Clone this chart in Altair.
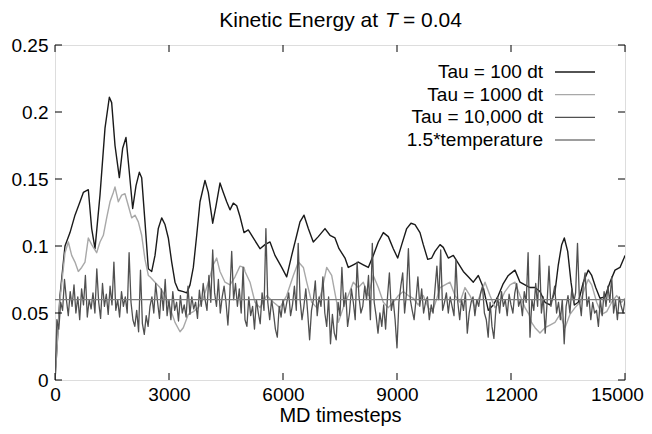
import altair as alt
import pandas as pd

FONT = "Liberation Sans"

# ---- Series: Tau = 100 dt (black, slow large oscillations) ----
t_tau100 = [0, 132, 263, 395, 526, 658, 746, 877, 965, 1053, 1184, 1316, 1430, 1491, 1579,
            1693, 1781, 1868, 1956, 2044, 2132, 2219, 2281, 2368, 2456, 2545, 2632, 2718,
            2808, 2895, 2982, 3071, 3158, 3245, 3376, 3466, 3553, 3640, 3729, 3816, 3947,
            4034, 4150, 4237, 4342, 4429, 4518, 4605, 4692, 4782, 4868, 4974, 5087, 5218,
            5395, 5526, 5658, 5789, 5966, 6097, 6229, 6361, 6447, 6553, 6666, 6797, 6929,
            7105, 7237, 7368, 7474, 7632, 7718, 7850, 7982, 8113, 8245, 8376, 8508, 8640,
            8771, 8903, 9018, 9124, 9255, 9368, 9474, 9605, 9692, 9808, 9913, 10000, 10132,
            10218, 10350, 10482, 10613, 10745, 10876, 11008, 11140, 11271, 11403, 11534,
            11666, 11797, 11929, 12105, 12237, 12368, 12500, 12632, 12763, 12895, 13026,
            13158, 13245, 13334, 13403, 13492, 13579, 13666, 13771, 13903, 14034, 14124,
            14229, 14342, 14474, 14605, 14737, 14868, 14974, 15000]
v_tau100 = [0.0, 0.063, 0.100, 0.110, 0.123, 0.133, 0.140, 0.142, 0.113, 0.098, 0.138, 0.188,
            0.211, 0.207, 0.175, 0.151, 0.173, 0.181, 0.155, 0.128, 0.145, 0.155, 0.151, 0.118,
            0.083, 0.081, 0.093, 0.113, 0.121, 0.116, 0.106, 0.088, 0.073, 0.067, 0.066, 0.065,
            0.071, 0.084, 0.108, 0.133, 0.149, 0.140, 0.117, 0.130, 0.147, 0.140, 0.133, 0.127,
            0.132, 0.130, 0.122, 0.110, 0.112, 0.106, 0.098, 0.101, 0.103, 0.093, 0.084, 0.077,
            0.093, 0.108, 0.118, 0.123, 0.113, 0.103, 0.107, 0.113, 0.108, 0.106, 0.098, 0.091,
            0.084, 0.086, 0.088, 0.086, 0.084, 0.093, 0.103, 0.110, 0.107, 0.098, 0.091, 0.101,
            0.113, 0.117, 0.116, 0.110, 0.101, 0.090, 0.091, 0.096, 0.101, 0.099, 0.091, 0.093,
            0.087, 0.081, 0.077, 0.073, 0.078, 0.069, 0.052, 0.056, 0.063, 0.072, 0.078, 0.082,
            0.073, 0.071, 0.069, 0.069, 0.066, 0.058, 0.056, 0.066, 0.086, 0.101, 0.106, 0.096,
            0.073, 0.056, 0.058, 0.073, 0.082, 0.078, 0.069, 0.061, 0.062, 0.073, 0.082, 0.084,
            0.091, 0.093]

# ---- Series: Tau = 1000 dt (light gray) ----
t_tau1000 = [0, 132, 263, 351, 439, 526, 614, 702, 789, 877, 965, 1096, 1184, 1272, 1360,
             1447, 1535, 1579, 1667, 1754, 1842, 1930, 2018, 2105, 2193, 2281, 2368, 2456,
             2500, 2632, 2763, 2895, 3026, 3158, 3290, 3376, 3508, 3640, 3772, 3903, 4034,
             4166, 4255, 4342, 4474, 4605, 4737, 4868, 4974, 5000, 5132, 5263, 5395, 5571,
             5747, 5921, 6097, 6272, 6405, 6536, 6624, 6755, 6887, 7018, 7150, 7281, 7413,
             7456, 7587, 7718, 7850, 7982, 8113, 8245, 8376, 8508, 8640, 8771, 8903, 9034,
             9166, 9297, 9429, 9561, 9692, 9824, 9930, 10050, 10132, 10263, 10395, 10526,
             10658, 10789, 10921, 11053, 11184, 11316, 11447, 11579, 11710, 11842, 11974,
             12105, 12237, 12368, 12474, 12540, 12632, 12763, 12895, 13026, 13158, 13289,
             13421, 13553, 13684, 13816, 13947, 14034, 14124, 14255, 14387, 14518, 14650,
             14781, 14913, 15000]
v_tau1000 = [0.0, 0.060, 0.095, 0.103, 0.093, 0.088, 0.081, 0.084, 0.088, 0.106, 0.101, 0.095,
             0.103, 0.108, 0.121, 0.133, 0.140, 0.144, 0.133, 0.138, 0.139, 0.130, 0.121, 0.123,
             0.118, 0.108, 0.090, 0.078, 0.077, 0.073, 0.069, 0.063, 0.054, 0.043, 0.036, 0.039,
             0.049, 0.051, 0.054, 0.061, 0.073, 0.086, 0.091, 0.081, 0.073, 0.071, 0.077, 0.085,
             0.084, 0.081, 0.073, 0.058, 0.054, 0.063, 0.058, 0.054, 0.063, 0.078, 0.088, 0.084,
             0.073, 0.058, 0.054, 0.066, 0.084, 0.078, 0.058, 0.043, 0.054, 0.063, 0.073, 0.069,
             0.073, 0.063, 0.078, 0.069, 0.058, 0.054, 0.058, 0.063, 0.066, 0.063, 0.061, 0.056,
             0.063, 0.054, 0.051, 0.061, 0.069, 0.071, 0.073, 0.063, 0.058, 0.069, 0.063, 0.054,
             0.063, 0.073, 0.063, 0.054, 0.058, 0.066, 0.071, 0.073, 0.063, 0.054, 0.049, 0.043,
             0.039, 0.035, 0.039, 0.041, 0.043, 0.049, 0.039, 0.049, 0.054, 0.058, 0.069, 0.075,
             0.071, 0.058, 0.049, 0.051, 0.058, 0.063, 0.058, 0.061]

# ---- Series: Tau = 10,000 dt (dark gray, noisy), sampled every 50 timesteps ----
t_tau10000 = list(range(0, 15001, 50))
v_tau10000 = [
    0.0, 0.045, 0.038, 0.058, 0.052, 0.075, 0.060, 0.048, 0.066, 0.055, 0.071, 0.050, 0.062, 0.045, 0.068, 0.056, 0.078, 0.047, 0.060, 0.053,
    0.065, 0.050, 0.083, 0.058, 0.046, 0.072, 0.055, 0.064, 0.049, 0.070, 0.056, 0.088, 0.052, 0.060, 0.047, 0.066, 0.055, 0.062, 0.050, 0.095,
    0.058, 0.045, 0.040, 0.052, 0.036, 0.082, 0.042, 0.034, 0.048, 0.040, 0.055, 0.062, 0.050, 0.072, 0.058, 0.046, 0.068, 0.052, 0.075, 0.048,
    0.060, 0.045, 0.066, 0.052, 0.058, 0.044, 0.063, 0.050, 0.056, 0.047, 0.070, 0.049, 0.062, 0.053, 0.058, 0.046, 0.067, 0.055, 0.072, 0.060,
    0.052, 0.078, 0.058, 0.097, 0.065, 0.055, 0.075, 0.050, 0.062, 0.070, 0.058, 0.041, 0.064, 0.096, 0.060, 0.072, 0.055, 0.068, 0.050, 0.084,
    0.045, 0.040, 0.062, 0.048, 0.055, 0.038, 0.060, 0.050, 0.042, 0.065, 0.052, 0.113, 0.058, 0.045, 0.060, 0.050, 0.038, 0.032, 0.055, 0.047,
    0.060, 0.050, 0.058, 0.065, 0.048, 0.056, 0.070, 0.052, 0.102, 0.060, 0.045, 0.055, 0.068, 0.050, 0.030, 0.052, 0.060, 0.074, 0.048, 0.062,
    0.055, 0.077, 0.050, 0.040, 0.062, 0.027, 0.049, 0.035, 0.030, 0.058, 0.048, 0.084, 0.055, 0.065, 0.040, 0.050, 0.068, 0.058, 0.045, 0.088,
    0.062, 0.050, 0.055, 0.070, 0.060, 0.078, 0.045, 0.102, 0.058, 0.048, 0.035, 0.050, 0.040, 0.056, 0.038, 0.062, 0.080, 0.052, 0.060, 0.045,
    0.024, 0.058, 0.070, 0.080, 0.050, 0.065, 0.098, 0.060, 0.052, 0.045, 0.060, 0.077, 0.055, 0.068, 0.050, 0.058, 0.062, 0.045, 0.056, 0.050,
    0.068, 0.085, 0.060, 0.097, 0.052, 0.058, 0.065, 0.050, 0.062, 0.055, 0.048, 0.090, 0.058, 0.045, 0.060, 0.052, 0.065, 0.035, 0.050, 0.058,
    0.062, 0.048, 0.060, 0.055, 0.065, 0.070, 0.050, 0.045, 0.032, 0.058, 0.040, 0.031, 0.052, 0.062, 0.050, 0.066, 0.055, 0.060, 0.048, 0.064,
    0.056, 0.050, 0.065, 0.072, 0.055, 0.060, 0.048, 0.066, 0.058, 0.095, 0.032, 0.060, 0.052, 0.072, 0.055, 0.093, 0.050, 0.062, 0.035, 0.058,
    0.085, 0.055, 0.062, 0.070, 0.050, 0.058, 0.045, 0.060, 0.027, 0.055, 0.063, 0.050, 0.068, 0.058, 0.065, 0.102, 0.060, 0.048, 0.070, 0.080,
    0.055, 0.062, 0.045, 0.058, 0.050, 0.052, 0.040, 0.060, 0.048, 0.066, 0.055, 0.070, 0.058, 0.077, 0.050, 0.060, 0.045, 0.062, 0.055, 0.050,
    0.060,
]

# ---- 1.5*temperature (constant) ----
t_temp = [0, 15000]
v_temp = [0.06, 0.06]

series_names = ["Tau = 100 dt", "Tau = 1000 dt", "Tau = 10,000 dt", "1.5*temperature"]
series_colors = ["#1a1a1a", "#a8a8a8", "#505050", "#7c7c7c"]
series_widths = [1.4, 1.4, 1.3, 1.3]

x_ticks = [0, 3000, 6000, 9000, 12000, 15000]
y_ticks = [0, 0.05, 0.1, 0.15, 0.2, 0.25]

W, H = 570, 335

frames = []
for name, ts, vs in zip(series_names,
                        [t_tau100, t_tau1000, t_tau10000, t_temp],
                        [v_tau100, v_tau1000, v_tau10000, v_temp]):
    frames.append(pd.DataFrame({"series": name, "t": ts, "v": vs}))

x_scale = alt.Scale(domain=[0, 15000], nice=False)
y_scale = alt.Scale(domain=[0, 0.25], nice=False)
color_scale = alt.Scale(domain=series_names, range=series_colors)

x_axis = alt.Axis(values=x_ticks, format="d", title="MD timesteps",
                  ticks=False, domain=False, grid=False,
                  labelFontSize=19, labelPadding=5, labelFont=FONT,
                  labelColor="black", titleFontSize=20, titleFont=FONT,
                  titleFontWeight="normal", titleColor="black",
                  titlePadding=1, labelFlush=False,
                  labelOffset={"condition": {"test": "datum.value == 15000", "value": -8},
                               "value": 0})
y_axis = alt.Axis(values=y_ticks, format="~g", title=None,
                  ticks=False, domain=False, grid=False,
                  labelFontSize=19, labelPadding=7, labelFont=FONT,
                  labelColor="black", labelFlush=False)

layers = []
for i, (name, df) in enumerate(zip(series_names, frames)):
    layers.append(
        alt.Chart(df).mark_line(strokeWidth=series_widths[i], clip=True,
                                strokeJoin="round").encode(
            x=alt.X("t:Q", scale=x_scale, axis=x_axis),
            y=alt.Y("v:Q", scale=y_scale, axis=y_axis),
            color=alt.Color("series:N", scale=color_scale, legend=None),
        )
    )

# inward tick marks on all four sides (gnuplot style)
ytick_df = pd.DataFrame({"v": y_ticks})
xtick_df = pd.DataFrame({"t": x_ticks})
TL = 7
tick_layers = [
    alt.Chart(ytick_df).mark_rule(color="black", strokeWidth=1).encode(
        y=alt.Y("v:Q", scale=y_scale, axis=y_axis), x=alt.value(0), x2=alt.value(TL)),
    alt.Chart(ytick_df).mark_rule(color="black", strokeWidth=1).encode(
        y=alt.Y("v:Q", scale=y_scale, axis=y_axis), x=alt.value(W), x2=alt.value(W - TL)),
    alt.Chart(xtick_df).mark_rule(color="black", strokeWidth=1).encode(
        x=alt.X("t:Q", scale=x_scale, axis=x_axis), y=alt.value(H), y2=alt.value(H - TL)),
    alt.Chart(xtick_df).mark_rule(color="black", strokeWidth=1).encode(
        x=alt.X("t:Q", scale=x_scale, axis=x_axis), y=alt.value(0), y2=alt.value(TL)),
]

main = alt.layer(*layers, *tick_layers)

# manual key (text right-aligned, line sample to the right)
legend_df = pd.DataFrame({"series": series_names, "row": [0, 1, 2, 3]})
row_scale = alt.Scale(domain=[0, 3], range=[27, 95])
legend_text = alt.Chart(legend_df).mark_text(
    align="right", baseline="middle", fontSize=19, font=FONT, color="black"
).encode(
    x=alt.value(488),
    y=alt.Y("row:Q", scale=row_scale, axis=None),
    text="series:N",
)
legend_line = alt.Chart(legend_df).mark_rule(strokeWidth=1.4).encode(
    x=alt.value(500), x2=alt.value(540),
    y=alt.Y("row:Q", scale=row_scale, axis=None),
    color=alt.Color("series:N", scale=color_scale, legend=None),
)
legend = alt.layer(legend_text, legend_line)

# title with italic T
title_df = pd.DataFrame({"k": [0]})
A = 323
TY = -18
title_layers = [
    alt.Chart(title_df).mark_text(align="right", baseline="alphabetic", fontSize=21,
                                  font=FONT, color="black").encode(
        x=alt.value(A), y=alt.value(TY), text=alt.value("Kinetic Energy at")),
    alt.Chart(title_df).mark_text(align="left", baseline="alphabetic", fontSize=21,
                                  font=FONT, fontStyle="italic", color="black").encode(
        x=alt.value(A + 7), y=alt.value(TY), text=alt.value("T")),
    alt.Chart(title_df).mark_text(align="left", baseline="alphabetic", fontSize=21,
                                  font=FONT, color="black").encode(
        x=alt.value(A + 25), y=alt.value(TY), text=alt.value("= 0.04")),
]

chart = alt.layer(main, legend, *title_layers).resolve_scale(y="independent").properties(
    width=W, height=H,
    autosize=alt.AutoSizeParams(type="none"),
    padding={"left": 47, "top": 37, "right": 19, "bottom": 46},
).configure_view(stroke="black", strokeWidth=1.2).configure(background="white")

chart.save("out.html", embed_options={"renderer": "svg", "actions": False})
